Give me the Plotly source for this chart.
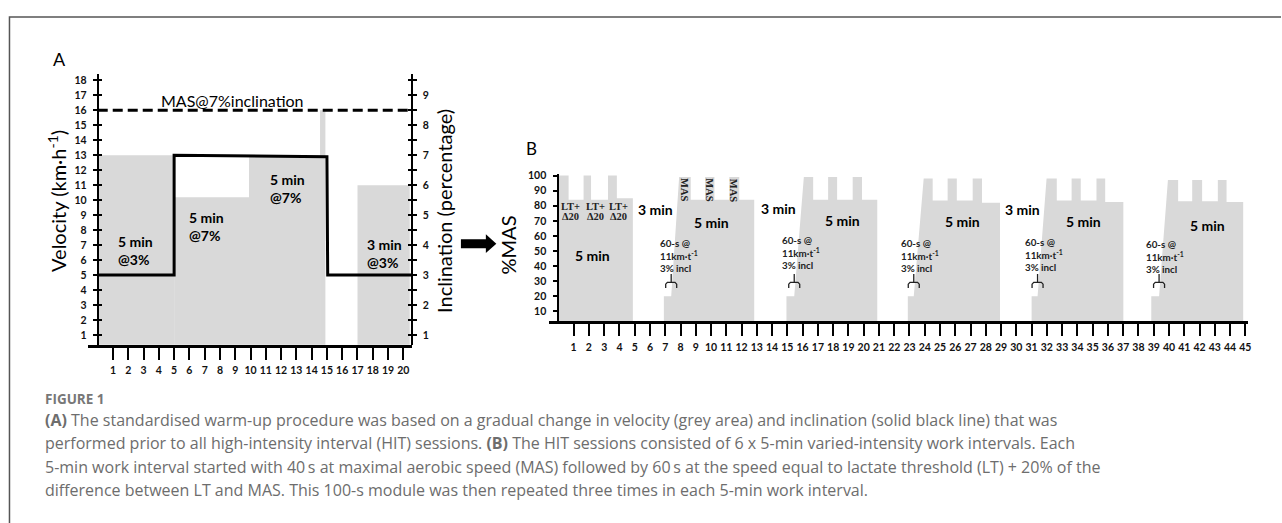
import plotly.graph_objects as go

W, H = 1282, 523


def px(x):
    return x / W


def py(y):
    return 1 - y / H


# ---------------- Panel A data (warm-up) ----------------
warm_start = [0, 5, 9.9, 14.55, 17.0]
warm_end = [5, 9.9, 14.55, 14.9, 20.42]
warm_velocity = [13, 10.2, 13, 16, 11]

incl_time = [0, 5, 5, 15, 15.05, 20.55]
incl_pct = [3, 3, 7, 6.95, 3, 3]

mas_velocity = 16
vel_ticks = list(range(1, 19))
incl_ticks = list(range(1, 10))
a_minutes = list(range(1, 21))

warm_labels = ["5 min<br>@3%", "5 min<br>@7%", "5 min<br>@7%", "3 min<br>@3%"]

# ---------------- Panel B data (HIT session, %MAS) ----------------
session_time = [
    [0, 0.67, 0.67, 1.65, 1.65, 2.14, 2.14, 3.25, 3.25, 3.83, 3.83, 4.88],
    [6.91, 7.39, 7.91, 8.67, 8.67, 9.61, 9.61, 10.22, 10.22, 11.2, 11.2, 11.85, 11.85, 12.83],
    [14.94, 15.45, 16.08, 16.69, 16.69, 17.67, 17.67, 18.26, 18.26, 19.28, 19.28, 19.89, 19.89, 20.89],
    [22.89, 23.28, 23.93, 24.52, 24.52, 25.5, 25.5, 26.1, 26.1, 27.14, 27.14, 27.75, 27.75, 28.93],
    [31.0, 31.39, 31.98, 32.65, 32.65, 33.62, 33.62, 34.22, 34.22, 35.25, 35.25, 35.82, 35.82, 37.01],
    [38.84, 39.35, 39.93, 40.6, 40.6, 41.52, 41.52, 42.17, 42.17, 43.2, 43.2, 43.77, 43.77, 44.86],
]
session_pct = [
    [100, 100, 84, 84, 100, 100, 84, 84, 100, 100, 85, 85],
    [20, 20, 99, 99, 84, 84, 99, 99, 84, 84, 99, 99, 84, 84],
    [20, 20, 99, 99, 84, 84, 99, 99, 84, 84, 99, 99, 84, 84],
    [20, 20, 98, 98, 83.5, 83.5, 98, 98, 83.5, 83.5, 98, 98, 82, 82],
    [20, 20, 98, 98, 83.5, 83.5, 98, 98, 83.5, 83.5, 98, 98, 82.5, 82.5],
    [20, 20, 97, 97, 83, 83, 97, 97, 83, 83, 97, 97, 82.5, 82.5],
]
b_minutes = list(range(1, 46))
pct_ticks = list(range(10, 101, 10))

GREY = "#d9d9d9"
TICKFONT = dict(family="Lato", size=10.5, color="#111111", weight="bold")

fig = go.Figure()

# ---- Panel A traces
fig.add_trace(go.Bar(
    x=[(s + e) / 2 for s, e in zip(warm_start, warm_end)],
    width=[e - s for s, e in zip(warm_start, warm_end)],
    y=warm_velocity, marker=dict(color=GREY, line=dict(width=0)),
    xaxis="x", yaxis="y", showlegend=False, hoverinfo="skip"))
fig.add_trace(go.Scatter(
    x=incl_time, y=incl_pct, mode="lines", line=dict(color="black", width=3),
    xaxis="x", yaxis="y2", showlegend=False, hoverinfo="skip"))
# invisible anchors for overlay tick axes
fig.add_trace(go.Scatter(x=[None], y=[None], xaxis="x", yaxis="y3", showlegend=False))
fig.add_trace(go.Scatter(x=[None], y=[None], xaxis="x", yaxis="y5", showlegend=False))

# ---- Panel B traces
for t, v in zip(session_time, session_pct):
    fig.add_trace(go.Scatter(
        x=t, y=v, mode="lines", fill="tozeroy", fillcolor=GREY,
        line=dict(width=0, color=GREY), xaxis="x2", yaxis="y4",
        showlegend=False, hoverinfo="skip"))

# braces under the "60-s @" notes (at end of the 60-s step)
brace_centers = [t[1] for t in session_time[1:]]
bx, by = [], []
for c in brace_centers:
    bx += [c - 0.36, c - 0.36, c - 0.25, c + 0.25, c + 0.36, c + 0.36, None, c, c, None]
    by += [25.5, 28.0, 29.2, 29.2, 28.0, 25.5, None, 29.2, 34.7, None]
fig.add_trace(go.Scatter(x=bx, y=by, mode="lines", line=dict(color="#222", width=1.3),
                         xaxis="x2", yaxis="y4", showlegend=False, hoverinfo="skip"))

# ---------------- axes ----------------
axis_common = dict(showgrid=False, zeroline=False, linecolor="black", tickcolor="black")
incl_minor_out = dict(dtick=0.5, ticks="outside", ticklen=4, tickwidth=2, tickcolor="black", showgrid=False)
incl_minor_in = dict(dtick=0.5, ticks="inside", ticklen=4, tickwidth=2, tickcolor="black", showgrid=False)

fig.update_layout(
    width=W, height=H, autosize=False,
    margin=dict(l=0, r=0, t=0, b=0),
    paper_bgcolor="white", plot_bgcolor="rgba(0,0,0,0)",
    showlegend=False,
    xaxis=dict(**axis_common, domain=[px(88), px(412.7)], range=[-0.65, 20.55],
               anchor="y", showline=True, linewidth=3, tickvals=a_minutes,
               ticks="outside", ticklen=12, tickwidth=2, tickfont=TICKFONT,
               ticklabelstandoff=2),
    yaxis=dict(**axis_common, domain=[py(343), py(70)], range=[0.35, 18.4],
               anchor="free", position=px(98), showline=True, linewidth=2,
               tickvals=vel_ticks, ticks="outside", ticklen=4, tickwidth=2,
               tickfont=TICKFONT, ticklabelstandoff=4),
    yaxis3=dict(**axis_common, domain=[py(343), py(70)], range=[0.35, 18.4],
                overlaying="y", anchor="free", position=px(98), showline=False,
                tickvals=vel_ticks, ticks="inside", ticklen=3, tickwidth=2,
                showticklabels=False),
    yaxis2=dict(**axis_common, range=[0.675, 9.7], overlaying="y", side="right",
                anchor="free", position=px(412.7), showline=True, linewidth=2,
                tickmode="linear", tick0=1, dtick=1, ticks="outside",
                ticklen=4, tickwidth=2, tickfont=TICKFONT, ticklabelstandoff=4,
                minor=incl_minor_out),
    yaxis5=dict(**axis_common, range=[0.675, 9.7], overlaying="y", side="right",
                anchor="free", position=px(412.7), showline=False,
                tickmode="linear", tick0=1, dtick=1, ticks="inside", ticklen=4,
                tickwidth=2, showticklabels=False, minor=incl_minor_in),
    xaxis2=dict(**axis_common, domain=[px(549.9), px(1251.3)], range=[-0.64, 45.2],
                anchor="y4", showline=True, linewidth=3, tickvals=b_minutes,
                ticks="outside", ticklen=12, tickwidth=2, tickfont=TICKFONT,
                ticklabelstandoff=2),
    yaxis4=dict(**axis_common, domain=[py(319), py(170.7)], range=[3.6, 101],
                anchor="free", position=px(559.7), showline=True, linewidth=2,
                tickvals=pct_ticks, ticks="outside", ticklen=4, tickwidth=2,
                tickfont=TICKFONT, ticklabelstandoff=5),
)

shapes = []
# MAS dashed reference line
shapes.append(dict(type="line", xref="x", yref="y", x0=0, x1=20.55,
                   y0=mas_velocity, y1=mas_velocity, layer="above",
                   line=dict(color="black", width=3, dash="10px,5px")))
# arrow between panels
shapes.append(dict(type="path", xref="paper", yref="paper", layer="above",
                   path=(f"M {px(462)},{py(236.5)} L {px(487)},{py(236.5)} L {px(487)},{py(231.5)} "
                         f"L {px(497.5)},{py(241)} L {px(487)},{py(250.5)} L {px(487)},{py(245.5)} "
                         f"L {px(462)},{py(245.5)} Z"),
                   fillcolor="black", line=dict(width=0)))
# frame
shapes.append(dict(type="path", xref="paper", yref="paper", layer="above",
                   path=f"M {px(9.5)},{py(525)} L {px(9.5)},{py(12)} L {px(1284)},{py(12)}",
                   line=dict(color="#555555", width=1.5)))

ann = []
BIG = dict(family="Lato", color="black")


def a(**kw):
    d = dict(showarrow=False, xanchor="center", yanchor="middle")
    d.update(kw)
    ann.append(d)


# Panel A texts
a(text="A", xref="paper", yref="paper", x=px(60), y=py(55), font=dict(**BIG, size=18))
a(text="Velocity (km·h<sup>-1</sup>)", xref="paper", yref="paper", x=px(57), y=py(198),
  textangle=-90, font=dict(**BIG, size=20))
a(text="Inclination (percentage)", xref="paper", yref="paper", x=px(445), y=py(208),
  textangle=-90, font=dict(**BIG, size=20))
a(text="MAS@7%inclination", xref="x", yref="y", x=8.81, y=16.68, font=dict(**BIG, size=16))
warm_lab_pos = [(1.18, 6.62), (5.83, 8.27), (11.14, 10.75), (17.5, 6.45)]
for txt, (x, y) in zip(warm_labels, warm_lab_pos):
    a(text=txt, xref="x", yref="y", x=x, y=y, xanchor="left", align="left",
      font=dict(**BIG, size=14, weight="bold"))

# Panel B texts
a(text="B", xref="paper", yref="paper", x=px(533), y=py(145), font=dict(**BIG, size=17))
a(text="%MAS", xref="paper", yref="paper", x=px(509), y=py(242), textangle=-90,
  font=dict(**BIG, size=20))

# "40 s" over every MAS peak (placed at the end of each peak)
for t, v in zip(session_time, session_pct):
    peak = max(v)
    for i in range(1, len(t)):
        if v[i - 1] == peak and v[i] < peak and t[i] == t[i - 1]:
            a(text="40 s", xref="x2", yref="y4", x=t[i], y=107, textangle=-40,
              font=dict(**BIG, size=12.5, weight="bold"))
# block 1: LT + delta20 labels
for x in [0.78, 2.46, 3.94]:
    a(text="LT+", xref="x2", yref="y4", x=x, y=79.6,
      font=dict(family="Liberation Serif", size=10.5, color="#222", weight="bold"))
    a(text="Δ20", xref="x2", yref="y4", x=x, y=73,
      font=dict(family="Liberation Serif", size=10.5, color="#222", weight="bold"))
# block 2: MAS vertical labels at peak centres
t2, v2 = session_time[1], session_pct[1]
for i in range(1, len(t2)):
    if v2[i - 1] == max(v2) and v2[i] == max(v2):
        a(text="MAS", xref="x2", yref="y4", x=(t2[i - 1] + t2[i]) / 2, y=90.4, textangle=90,
          font=dict(family="Liberation Serif", size=10.5, color="#222", weight="bold"))

five_pos = [(2.25, 47.2), (10.04, 68.7), (18.58, 70.2), (26.49, 69.8), (34.4, 69.3), (42.49, 67.1)]
for x, y in five_pos:
    a(text="5 min", xref="x2", yref="y4", x=x, y=y, font=dict(**BIG, size=14, weight="bold"))
three_pos = [(6.33, 77.4), (14.44, 78.1), (30.41, 77.4)]
for x, y in three_pos:
    a(text="3 min", xref="x2", yref="y4", x=x, y=y, font=dict(**BIG, size=14, weight="bold"))
note_pos = [(6.51, 46.8), (14.51, 49.0), (22.29, 47.0), (30.41, 47.6), (38.33, 46.5)]
for x, y in note_pos:
    a(text="60-s @<br>11km·t<sup>-1</sup><br>3% incl", xref="x2", yref="y4", x=x, y=y,
      xanchor="left", align="left",
      font=dict(family="Lato", size=9.8, color="#222", weight="bold"))

# Caption
CAP = dict(family="Open Sans", size=16, color="#6d6d6d")
a(text="FIGURE 1", xref="paper", yref="paper", x=px(43), y=py(397.7), xanchor="left",
  font=dict(family="Open Sans", size=13.5, color="#777777", weight="bold"))
caption_lines = [
    "<b>(A)</b> The standardised warm-up procedure was based on a gradual change in velocity (grey area) and inclination (solid black line) that was",
    "performed prior to all high-intensity interval (HIT) sessions. <b>(B)</b> The HIT sessions consisted of 6 x 5-min varied-intensity work intervals. Each",
    "5-min work interval started with 40\u2009s at maximal aerobic speed (MAS) followed by 60\u2009s at the speed equal to lactate threshold (LT) + 20% of the",
    "difference between LT and MAS. This 100-s module was then repeated three times in each 5-min work interval.",
]
for i, line in enumerate(caption_lines):
    a(text=line, xref="paper", yref="paper", x=px(43), y=py(419 + 23.5 * i),
      xanchor="left", font=CAP)

fig.update_layout(shapes=shapes, annotations=ann)
fig.write_html("out.html")
